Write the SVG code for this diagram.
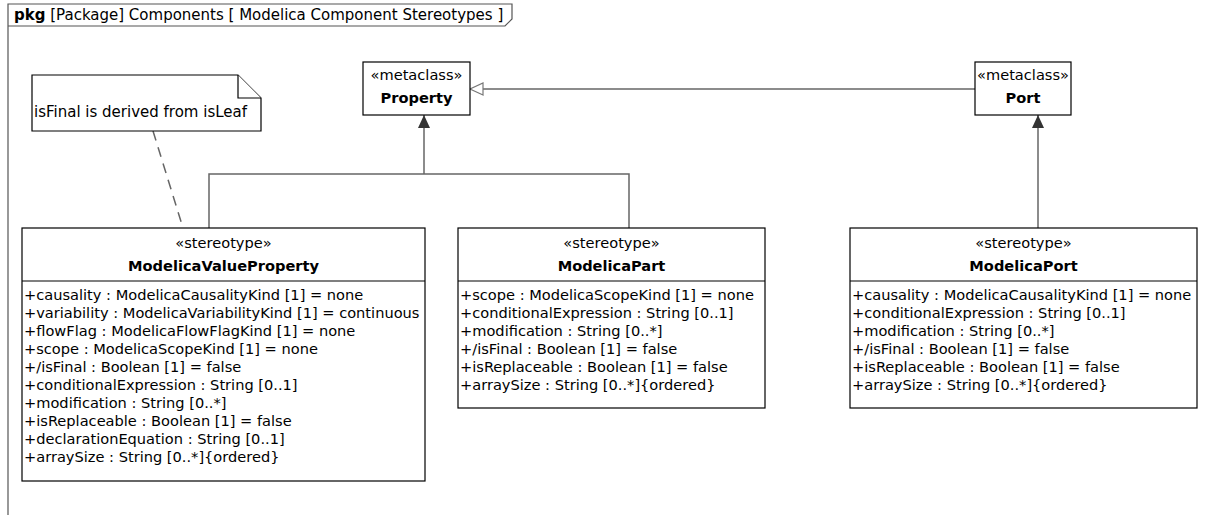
<svg xmlns="http://www.w3.org/2000/svg" width="1229" height="515" viewBox="0 0 1229 515">
<style>
text{font-family:"DejaVu Sans","Liberation Sans",sans-serif;font-size:14.6px;fill:#000}
.b{font-weight:bold}
.c{text-anchor:middle}
.box{fill:#fff;stroke:#000;stroke-width:1.2}
.ln{fill:none;stroke:#666;stroke-width:1.5}
.frame{fill:none;stroke:#555;stroke-width:1.2}
</style>
<defs>
<marker id="ext" markerWidth="14" markerHeight="14" refX="13" refY="7" orient="auto" markerUnits="userSpaceOnUse">
<path d="M0,1 L13,7 L0,13 Z" fill="#333"/>
</marker>
<marker id="gen" markerWidth="16" markerHeight="16" refX="14" refY="8" orient="auto" markerUnits="userSpaceOnUse">
<path d="M1,2 L14,8 L1,14 Z" fill="#fff" stroke="#777" stroke-width="1.2"/>
</marker>
</defs>
<g id="frame">
<path class="frame" d="M8,515 V4 H512 V19 L505,26 H8"/>
<text x="14" y="20" style="font-size:15px"><tspan class="b">pkg</tspan> [Package] Components [ Modelica Component Stereotypes ]</text>
</g>
<g id="connectors">
<line class="ln" x1="975" y1="89" x2="470" y2="89" marker-end="url(#gen)"/>
<polyline class="ln" points="209,228 209,174 629,174 629,228"/>
<line class="ln" x1="424" y1="174" x2="424" y2="115" marker-end="url(#ext)"/>
<line class="ln" x1="1038" y1="228" x2="1038" y2="115" marker-end="url(#ext)"/>
<line class="ln" x1="153" y1="131" x2="183" y2="228" stroke-dasharray="10,7"/>
</g>
<g id="note">
<path class="box" d="M32,75 H238 L261,98 V131 H32 Z"/>
<path class="box" d="M238,75 V98 H261" fill="none"/>
<text x="34" y="117" style="font-size:15px">isFinal is derived from isLeaf</text>
</g>
<g id="Property">
<rect class="box" x="363" y="62" width="107" height="53"/>
<text class="c" x="416.5" y="80">«metaclass»</text>
<text class="c b" x="416.5" y="103">Property</text>
</g>
<g id="Port">
<rect class="box" x="975" y="62" width="96" height="53"/>
<text class="c" x="1023" y="80">«metaclass»</text>
<text class="c b" x="1023" y="103">Port</text>
</g>
<g id="ModelicaValueProperty">
<rect class="box" x="22" y="228" width="403" height="253"/>
<line class="box" x1="22" y1="281" x2="425" y2="281"/>
<text class="c" x="223.5" y="248">«stereotype»</text>
<text class="c b" x="223.5" y="271">ModelicaValueProperty</text>
<text x="24" y="300">+causality : ModelicaCausalityKind [1] = none</text>
<text x="24" y="318">+variability : ModelicaVariabilityKind [1] = continuous</text>
<text x="24" y="336">+flowFlag : ModelicaFlowFlagKind [1] = none</text>
<text x="24" y="354">+scope : ModelicaScopeKind [1] = none</text>
<text x="24" y="372">+/isFinal : Boolean [1] = false</text>
<text x="24" y="390">+conditionalExpression : String [0..1]</text>
<text x="24" y="408">+modification : String [0..*]</text>
<text x="24" y="426">+isReplaceable : Boolean [1] = false</text>
<text x="24" y="444">+declarationEquation : String [0..1]</text>
<text x="24" y="462">+arraySize : String [0..*]{ordered}</text>
</g>
<g id="ModelicaPart">
<rect class="box" x="458" y="228" width="307" height="180"/>
<line class="box" x1="458" y1="281" x2="765" y2="281"/>
<text class="c" x="611.5" y="248">«stereotype»</text>
<text class="c b" x="611.5" y="271">ModelicaPart</text>
<text x="460" y="300">+scope : ModelicaScopeKind [1] = none</text>
<text x="460" y="318">+conditionalExpression : String [0..1]</text>
<text x="460" y="336">+modification : String [0..*]</text>
<text x="460" y="354">+/isFinal : Boolean [1] = false</text>
<text x="460" y="372">+isReplaceable : Boolean [1] = false</text>
<text x="460" y="390">+arraySize : String [0..*]{ordered}</text>
</g>
<g id="ModelicaPort">
<rect class="box" x="850" y="228" width="347" height="180"/>
<line class="box" x1="850" y1="281" x2="1197" y2="281"/>
<text class="c" x="1023.5" y="248">«stereotype»</text>
<text class="c b" x="1023.5" y="271">ModelicaPort</text>
<text x="852" y="300">+causality : ModelicaCausalityKind [1] = none</text>
<text x="852" y="318">+conditionalExpression : String [0..1]</text>
<text x="852" y="336">+modification : String [0..*]</text>
<text x="852" y="354">+/isFinal : Boolean [1] = false</text>
<text x="852" y="372">+isReplaceable : Boolean [1] = false</text>
<text x="852" y="390">+arraySize : String [0..*]{ordered}</text>
</g>
</svg>
